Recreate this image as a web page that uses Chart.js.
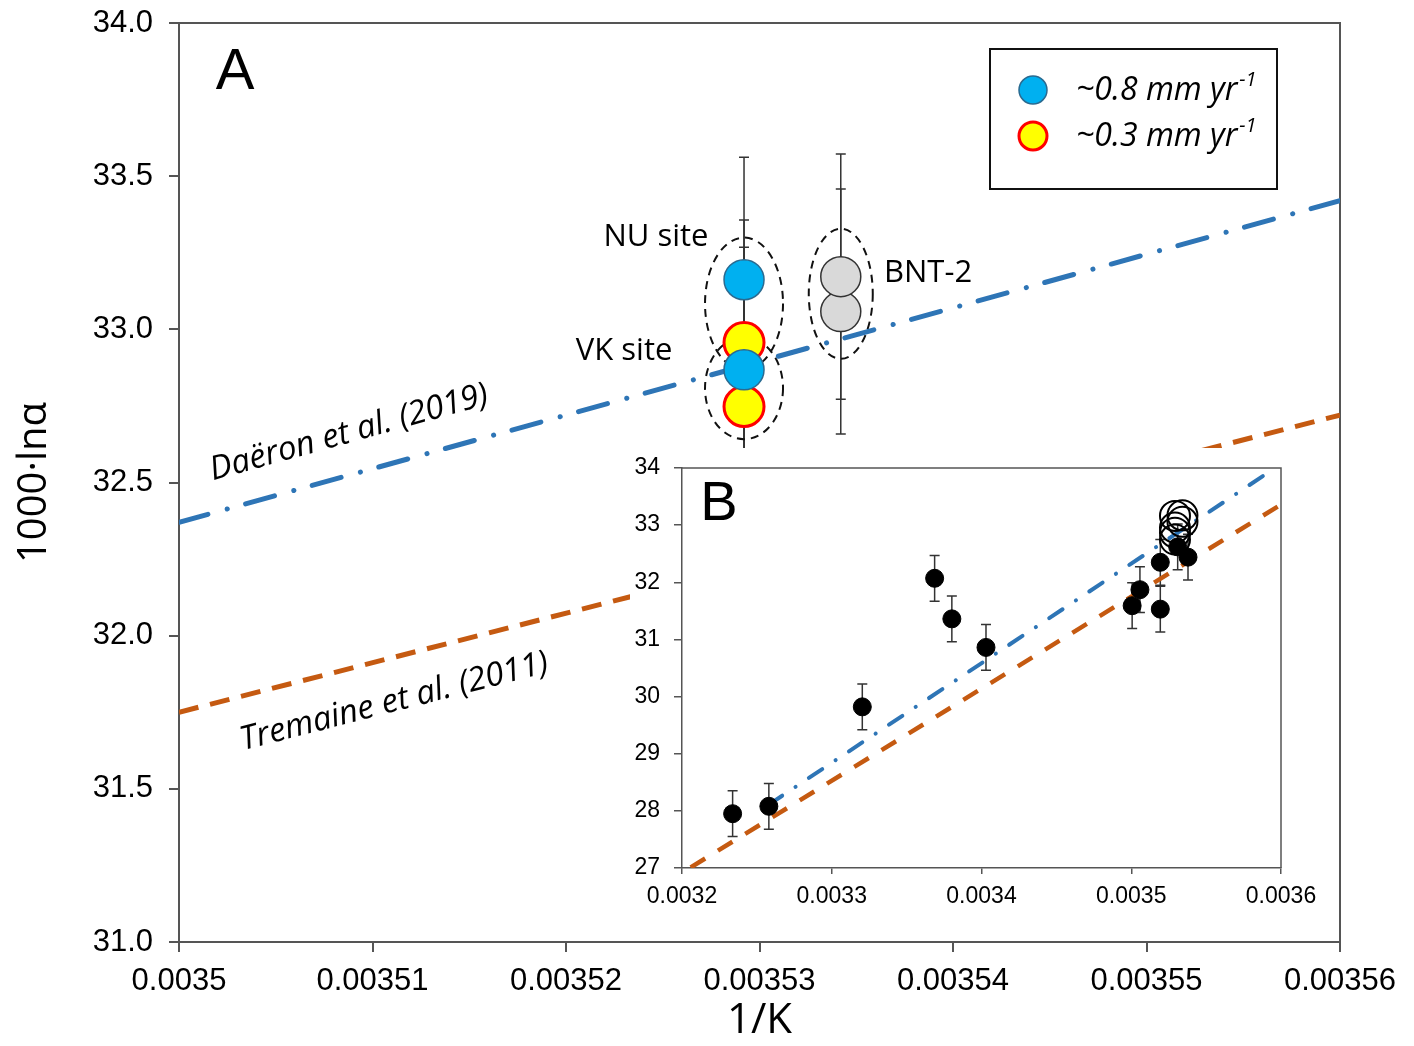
<!DOCTYPE html>
<html>
<head>
<meta charset="utf-8">
<script src="https://cdn.jsdelivr.net/npm/chart.js"></script>
<style>
  html, body { margin: 0; padding: 0; background: #fff; overflow: hidden; }
  #wrap { position: relative; width: 1414px; height: 1046px; }
  #mainChart { position: absolute; left: 0; top: 0; }
  #insetChart { position: absolute; left: 630px; top: 448px; background: #fff; }
</style>
</head>
<body>
<div id="wrap">
  <canvas id="mainChart" width="1414" height="1046"></canvas>
  <canvas id="insetChart" width="695" height="467"></canvas>
</div>
<script>
// ---- panel A: site data (1/K vs 1000 ln alpha) ----
const fastX = [0.0035292, 0.0035292];   // ~0.8 mm/yr
const fastY = [33.162, 32.868];
const fastErr = [0.4, 0.4];
const slowX = [0.0035292, 0.0035292];   // ~0.3 mm/yr
const slowY = [32.957, 32.748];
const slowErr = [0.4, 0.4];
const bntX = [0.0035342, 0.0035342];    // BNT-2
const bntY = [33.058, 33.172];
const bntErr = [0.4, 0.4];

// calibration lines (end points)
const daeronX = [0.0035, 0.00356];
const daeronY = [32.37, 33.42];
const tremaineX = [0.0035, 0.00356];
const tremaineY = [31.75, 32.72];

const mainXTicks = [0.0035, 0.00351, 0.00352, 0.00353, 0.00354, 0.00355, 0.00356];
const mainXLabels = ['0.0035', '0.00351', '0.00352', '0.00353', '0.00354', '0.00355', '0.00356'];
const mainYTicks = [31, 31.5, 32, 32.5, 33, 33.5, 34];
const mainYLabels = ['31.0', '31.5', '32.0', '32.5', '33.0', '33.5', '34.0'];

// ---- panel B: compilation ----
const insetX = [0.0032338, 0.0032580, 0.0033204, 0.0033687, 0.0033802, 0.0034030,
                0.0035006, 0.0035058, 0.0035194, 0.0035194, 0.0035379, 0.0035310];
const insetY = [27.95, 28.08, 29.82, 32.07, 31.36, 30.86,
                31.59, 31.87, 31.53, 32.35, 32.44, 32.62];
const insetErr = [0.4, 0.4, 0.4, 0.4, 0.4, 0.4, 0.4, 0.4, 0.4, 0.4, 0.4, 0.4];
const insetDaeronX = [0.003258, 0.003596];
const insetDaeronY = [28.11, 34.0];
const insetTremaineX = [0.0032058, 0.0036];
const insetTremaineY = [27.01, 33.36];

const insetXTicks = [0.0032, 0.0033, 0.0034, 0.0035, 0.0036];
const insetXLabels = ['0.0032', '0.0033', '0.0034', '0.0035', '0.0036'];
const insetYTicks = [27, 28, 29, 30, 31, 32, 33, 34];
const insetYLabels = ['27', '28', '29', '30', '31', '32', '33', '34'];

const legendLabels = ['~0.8 mm yr', '~0.3 mm yr'];

// annotations
const siteRings = [
  { x: 0.0035292, y: 33.084, rx: 39, ry: 66 },
  { x: 0.0035292, y: 32.808, rx: 39, ry: 51 },
  { x: 0.0035342, y: 33.116, rx: 32, ry: 65 }
];
const siteLabels = [
  { text: 'NU site', x: 0.00352465, y: 33.302 },
  { text: 'VK site', x: 0.0035230, y: 32.930 },
  { text: 'BNT-2', x: 0.00353871, y: 33.182 }
];

const numFont = '"Liberation Sans", Arial, sans-serif';
const textFont = '"Open Sans", "Liberation Sans", sans-serif';
const blue = '#2E75B6';
const orange = '#C55A11';
const axisGray = '#555';

const pts = (xs, ys) => xs.map((x, i) => ({ x: x, y: ys[i] }));

function drawErrBars(chart, xs, ys, errs, cap) {
  const { ctx, scales: { x, y } } = chart;
  ctx.save();
  ctx.strokeStyle = '#333';
  ctx.lineWidth = 1.5;
  xs.forEach((xv, i) => {
    const px = x.getPixelForValue(xv);
    const top = y.getPixelForValue(ys[i] + errs[i]);
    const bot = y.getPixelForValue(ys[i] - errs[i]);
    ctx.beginPath();
    ctx.moveTo(px, top); ctx.lineTo(px, bot);
    ctx.moveTo(px - cap, top); ctx.lineTo(px + cap, top);
    ctx.moveTo(px - cap, bot); ctx.lineTo(px + cap, bot);
    ctx.stroke();
  });
  ctx.restore();
}

function drawFrame(chart, w) {
  const { ctx, chartArea: a } = chart;
  ctx.save();
  ctx.strokeStyle = axisGray;
  ctx.lineWidth = w;
  ctx.beginPath();
  ctx.moveTo(a.left, a.top); ctx.lineTo(a.right, a.top); ctx.lineTo(a.right, a.bottom);
  ctx.stroke();
  ctx.restore();
}

function lineAngle(chart, xs, ys) {
  const { x, y } = chart.scales;
  const dx = x.getPixelForValue(xs[1]) - x.getPixelForValue(xs[0]);
  const dy = y.getPixelForValue(ys[1]) - y.getPixelForValue(ys[0]);
  return Math.atan2(dy, dx);
}

// keep the plot box where the layout padding puts it
function fixHeight(h) {
  return s => { s.height = h; s.paddingLeft = 0; s.paddingRight = 0; };
}
function fixWidth(w) {
  return s => { s.width = w; s.paddingTop = 0; s.paddingBottom = 0; };
}

const mainDecor = {
  id: 'mainDecor',
  beforeDatasetsDraw(chart) {
    const { ctx, scales: { x, y } } = chart;
    drawFrame(chart, 2);
    drawErrBars(chart, fastX, fastY, fastErr, 5);
    drawErrBars(chart, slowX, slowY, slowErr, 5);
    drawErrBars(chart, bntX, bntY, bntErr, 5);
    ctx.save();
    ctx.strokeStyle = '#111';
    ctx.lineWidth = 2;
    ctx.setLineDash([8, 6]);
    siteRings.forEach(r => {
      ctx.beginPath();
      ctx.ellipse(x.getPixelForValue(r.x), y.getPixelForValue(r.y), r.rx, r.ry, 0, 0, Math.PI * 2);
      ctx.stroke();
    });
    ctx.restore();
  },
  afterDatasetsDraw(chart) {
    const { ctx, chartArea: a, scales: { x, y }, data } = chart;
    ctx.save();
    ctx.fillStyle = '#000';
    // panel letter
    ctx.font = '58px ' + numFont;
    ctx.textAlign = 'center';
    ctx.textBaseline = 'middle';
    ctx.fillText('A', a.left + 56, a.top + 50);
    // site labels
    ctx.font = '31px ' + textFont;
    siteLabels.forEach(l => ctx.fillText(l.text, x.getPixelForValue(l.x), y.getPixelForValue(l.y)));
    // line labels
    ctx.font = 'italic 33px ' + textFont;
    ctx.textAlign = 'left';
    ctx.textBaseline = 'alphabetic';
    ctx.save();
    ctx.translate(x.getPixelForValue(0.00350176), y.getPixelForValue(32.507));
    ctx.rotate(lineAngle(chart, daeronX, daeronY));
    ctx.fillText('Daëron et al. (2019)', 0, 0);
    ctx.restore();
    ctx.save();
    ctx.translate(x.getPixelForValue(0.00350331), y.getPixelForValue(31.626));
    ctx.rotate(lineAngle(chart, tremaineX, tremaineY));
    ctx.fillText('Tremaine et al. (2011)', 0, 0);
    ctx.restore();
    // legend box
    const bx = a.right - 350, by = a.top + 26, bw = 287, bh = 140;
    ctx.fillStyle = '#fff';
    ctx.fillRect(bx, by, bw, bh);
    ctx.strokeStyle = '#111';
    ctx.lineWidth = 2;
    ctx.strokeRect(bx, by, bw, bh);
    legendLabels.forEach((lab, i) => {
      const ds = data.datasets[i];
      const cy = by + 41 + i * 46;
      ctx.beginPath();
      ctx.arc(bx + 43, cy, 14, 0, Math.PI * 2);
      ctx.fillStyle = ds.backgroundColor;
      ctx.fill();
      ctx.lineWidth = ds.borderWidth;
      ctx.strokeStyle = ds.borderColor;
      ctx.stroke();
      ctx.fillStyle = '#000';
      ctx.font = 'italic 32px ' + textFont;
      ctx.textBaseline = 'alphabetic';
      ctx.fillText(lab, bx + 86, cy + 10);
      const w = ctx.measureText(lab).width;
      ctx.font = 'italic 20px ' + textFont;
      ctx.fillText('-1', bx + 86 + w + 2, cy - 4);
    });
    ctx.restore();
  }
};

new Chart(document.getElementById('mainChart'), {
  type: 'scatter',
  data: {
    datasets: [
      { label: '~0.8 mm/yr', data: pts(fastX, fastY), pointRadius: 20, backgroundColor: '#00B0F0',
        borderColor: '#2A6A90', borderWidth: 1.5, order: 1 },
      { label: '~0.3 mm/yr', data: pts(slowX, slowY), pointRadius: 20, backgroundColor: '#FFFF00',
        borderColor: '#FF0000', borderWidth: 3, order: 2 },
      { label: 'BNT-2', data: pts(bntX, bntY), pointRadius: 20, backgroundColor: '#D9D9D9',
        borderColor: '#333', borderWidth: 1.5, order: 3 },
      { label: 'Daëron et al. (2019)', data: pts(daeronX, daeronY), showLine: true, pointRadius: 0,
        borderColor: blue, borderWidth: 5, borderCapStyle: 'round', borderDash: [30, 20, 0.1, 19], order: 4 },
      { label: 'Tremaine et al. (2011)', data: pts(tremaineX, tremaineY), showLine: true, pointRadius: 0,
        borderColor: orange, borderWidth: 5, borderDash: [20, 12], order: 5 }
    ]
  },
  options: {
    responsive: false,
    animation: false,
    layout: { padding: { top: 22, right: 74, left: 0, bottom: 0 } },
    plugins: { legend: { display: false }, tooltip: { enabled: false } },
    scales: {
      x: {
        type: 'linear', min: 0.0035, max: 0.00356,
        afterFit: fixHeight(104),
        afterBuildTicks: s => { s.ticks = mainXTicks.map(v => ({ value: v })); },
        ticks: { callback: (v, i) => mainXLabels[i], font: { family: numFont, size: 31 }, color: '#000',
                 padding: 11, maxRotation: 0, autoSkip: false },
        grid: { drawOnChartArea: false, tickLength: 10, color: axisGray, lineWidth: 2 },
        border: { color: axisGray, width: 2 },
        title: { display: true, text: '1/K', font: { family: textFont, size: 42 }, color: '#000',
                 padding: { top: 0, bottom: 0 } }
      },
      y: {
        type: 'linear', min: 31, max: 34,
        afterFit: fixWidth(179),
        afterBuildTicks: s => { s.ticks = mainYTicks.map(v => ({ value: v })); },
        ticks: { callback: (v, i) => mainYLabels[i], font: { family: numFont, size: 31 }, color: '#000',
                 padding: 16 },
        grid: { drawOnChartArea: false, tickLength: 10, color: axisGray, lineWidth: 2 },
        border: { color: axisGray, width: 2 },
        title: { display: true, text: '1000·lnα', font: { family: textFont, size: 40 }, color: '#000',
                 padding: { top: 11, bottom: 0 } }
      }
    }
  },
  plugins: [mainDecor]
});

// ---- inset (panel B) ----
const insetDecor = {
  id: 'insetDecor',
  beforeDatasetsDraw(chart) {
    drawFrame(chart, 1.5);
    drawErrBars(chart, insetX, insetY, insetErr, 5);
  },
  afterDatasetsDraw(chart) {
    const { ctx, chartArea: a } = chart;
    ctx.save();
    ctx.fillStyle = '#000';
    ctx.font = '56px ' + numFont;
    ctx.textAlign = 'center';
    ctx.textBaseline = 'middle';
    ctx.fillText('B', a.left + 37, a.top + 37);
    ctx.restore();
  }
};

new Chart(document.getElementById('insetChart'), {
  type: 'scatter',
  data: {
    datasets: [
      { label: 'this study', data: pts(fastX.concat(slowX, bntX), fastY.concat(slowY, bntY)),
        pointRadius: 15, backgroundColor: 'rgba(0,0,0,0)', borderColor: '#000', borderWidth: 2, order: 0 },
      { label: 'compilation', data: pts(insetX, insetY), pointRadius: 9, backgroundColor: '#000',
        borderColor: '#000', borderWidth: 1, order: 1 },
      { label: 'Daëron', data: pts(insetDaeronX, insetDaeronY), showLine: true, pointRadius: 0,
        borderColor: blue, borderWidth: 4, borderCapStyle: 'round', borderDash: [16, 16, 0.1, 16],
        clip: 0, order: 2 },
      { label: 'Tremaine', data: pts(insetTremaineX, insetTremaineY), showLine: true, pointRadius: 0,
        borderColor: orange, borderWidth: 4.5, borderDash: [17, 15], clip: 0, order: 3 }
    ]
  },
  options: {
    responsive: false,
    animation: false,
    layout: { padding: { top: 20, right: 44, left: 0, bottom: 0 } },
    plugins: { legend: { display: false }, tooltip: { enabled: false } },
    scales: {
      x: {
        type: 'linear', min: 0.0032, max: 0.0036,
        afterFit: fixHeight(47),
        afterBuildTicks: s => { s.ticks = insetXTicks.map(v => ({ value: v })); },
        ticks: { callback: (v, i) => insetXLabels[i], font: { family: numFont, size: 23 }, color: '#000',
                 padding: 9, maxRotation: 0, autoSkip: false },
        grid: { drawOnChartArea: false, tickLength: 6, color: axisGray, lineWidth: 1.5 },
        border: { color: axisGray, width: 1.5 }
      },
      y: {
        type: 'linear', min: 27, max: 34,
        afterFit: fixWidth(52),
        afterBuildTicks: s => { s.ticks = insetYTicks.map(v => ({ value: v })); },
        ticks: { callback: (v, i) => insetYLabels[i], font: { family: numFont, size: 23 }, color: '#000',
                 padding: 14 },
        grid: { drawOnChartArea: false, tickLength: 8, color: axisGray, lineWidth: 1.5 },
        border: { color: axisGray, width: 1.5 }
      }
    }
  },
  plugins: [insetDecor]
});
</script>
</body>
</html>
